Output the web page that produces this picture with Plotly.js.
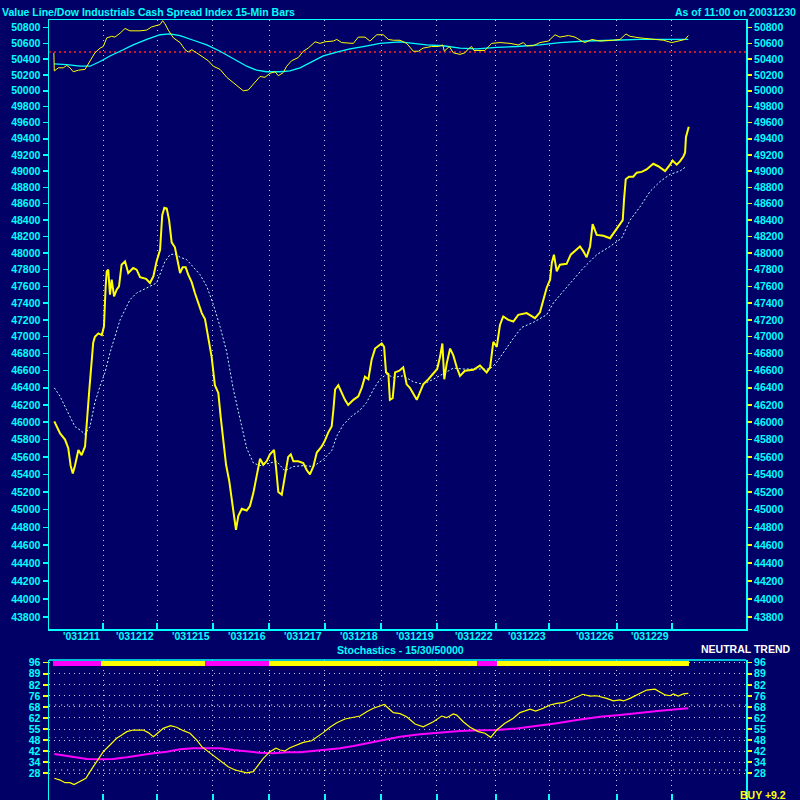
<!DOCTYPE html>
<html><head><meta charset="utf-8">
<script src="https://cdn.plot.ly/plotly-3.0.1.min.js"></script>
<style>html,body{margin:0;padding:0;background:#000066;}#chart{width:800px;height:800px;}</style>
</head><body><div id="chart"></div><script>
// ---------- DATA (x = 15-minute bar number since first bar) ----------
const dayTicks = [23.3, 48.4, 74.4, 100.5, 126.5, 152.6, 178.6, 206.0, 230.7, 262.3, 287.9];
const dayLabels = ["'031211","'031212","'031215","'031216","'031217","'031218","'031219","'031222","'031223","'031226","'031229"];

const priceTicks = [43800,44000,44200,44400,44600,44800,45000,45200,45400,45600,45800,46000,46200,46400,46600,46800,47000,47200,47400,47600,47800,48000,48200,48400,48600,48800,49000,49200,49400,49600,49800,50000,50200,50400,50600,50800];
const priceGridVals = [44000,44200,44400,44600,44800,45000,45200,45400,45600,45800,46000,46200,46400,46600,46800,47000,47200,47400,47600,47800,48000,48200,48400,48600,48800,49000,49200,49400,49600,49800,50000];

// Main price (yellow) and its moving average (dotted)
const priceX = [0.6,3.3,5.6,7.1,8.2,9.2,10.2,11.8,13.3,14.9, 16.9,18.7,19.5,21.1,22.7,23.7,24.5,25.0,25.7,26.5, 27.3,28.4,29.6,30.7,31.9,33.5,35.0,37.3,38.9,40.5, 43.3,45.1,46.7,48.2,49.8,50.8,51.8,52.9,54.0,55.2, 56.7,58.0,59.1,60.3,61.7,62.9,64.5,66.0,67.6,69.2, 70.7,72.2,73.8,75.3,76.9,78.0,79.2,80.5,82.0,83.4, 84.3,85.1,86.2,87.8,90.1,91.6,93.2,94.7,96.3,97.8, 99.4,100.9,102.8,103.7,104.8,106.4,107.9,109.4,110.6,111.8, 114.1,116.4,118.0,119.5,121.1,122.7,125.0,126.5,128.0,129.6, 130.4,131.2,132.7,134.3,135.8,137.3,139.7,142.0,143.6,145.1, 146.7,148.2,149.8,151.3,152.9,154.0,154.9,156.0,156.7,158.0, 159.1,161.1,162.9,164.5,166.0,167.6,169.2,170.7,172.2,174.6, 176.9,178.7,180.0,181.1,182.0,183.1,184.7,186.2,187.8,189.3, 191.6,195.5,198.6,201.7,203.3,204.8,206.4,207.9,209.4,211.8, 214.1,216.4,220.3,222.7,224.2,226.5,228.0,229.6,231.2,232.0, 233.0,234.3,235.8,238.9,240.8,242.8,245.1,246.7,248.2,249.8, 250.6,251.0,252.9,256.0,259.1,261.4,263.7,265.0,265.6,266.4, 267.9,269.9,271.5,273.8,276.1,279.2,281.5,284.7,287.0,288.2, 290.1,291.6,293.2,294.0,294.4,295.7];
const priceY = [46010,45870,45800,45700,45500,45410,45500,45680,45620,45720, 46380,46930,47000,47040,47020,47120,47600,47780,47800,47500, 47680,47480,47560,47600,47860,47900,47760,47820,47800,47710, 47690,47640,47720,47900,48040,48460,48550,48540,48400,48130, 48070,47900,47760,47830,47830,47740,47650,47520,47400,47280, 47210,47000,46760,46430,46340,46060,45790,45510,45320,45040, 44860,44770,44930,45010,44990,45040,45190,45360,45580,45510, 45550,45630,45680,45490,45200,45170,45380,45600,45630,45550, 45550,45530,45450,45400,45490,45650,45720,45790,45880,45950, 46140,46380,46430,46340,46260,46200,46260,46300,46400,46530, 46500,46730,46860,46890,46920,46880,46580,46560,46260,46280, 46580,46600,46640,46440,46400,46330,46260,46350,46440,46500, 46570,46620,46760,46920,46500,46680,46860,46780,46640,46540, 46600,46610,46660,46580,46640,46940,46880,47140,47240,47200, 47180,47260,47280,47240,47220,47290,47420,47580,47680,47880, 47980,47780,47860,47870,47980,48030,48080,48020,47950,48080, 48280,48350,48220,48210,48180,48260,48350,48400,48650,48900, 48930,48930,48980,48990,49020,49090,49060,49000,49080,49130, 49080,49120,49180,49230,49420,49550];

const maX = [0.6,3.3,6.4,8.7,10.2,12.6,14.9,17.2,19.5,21.9, 24.2,26.5,28.8,31.2,33.5,35.8,38.9,42.0,45.1,48.2, 50.6,52.1,54.4,56.7,59.1,62.2,65.3,68.4,71.5,74.6, 77.7,80.8,83.9,87.0,90.1,93.2,96.3,99.4,104.0,107.9, 111.8,116.4,121.1,125.7,129.6,132.0,135.0,138.9,142.8,145.9, 149.0,152.1,155.2,158.3,162.9,167.6,172.2,176.9,181.5,186.2, 190.8,203.3,206.4,210.2,214.1,218.0,223.4,229.6,232.7,237.3, 242.0,246.7,252.9,259.1,264.5,268.4,273.0,277.7,282.3,287.0, 291.6,294.7];
const maY = [46400,46300,46140,46030,45950,45910,45860,45950,46230,46420, 46580,46810,47000,47200,47320,47440,47520,47560,47590,47640, 47800,47900,47980,47990,47950,47920,47830,47740,47600,47380, 47120,46820,46380,46030,45700,45530,45500,45520,45550,45440, 45490,45500,45490,45570,45670,45840,45970,46070,46140,46230, 46380,46500,46560,46520,46540,46470,46440,46500,46560,46630, 46620,46620,46700,46840,46980,47110,47170,47260,47400,47540, 47680,47820,47980,48080,48180,48400,48560,48750,48870,48960, 49000,49060];

// Upper study (yellow) with its average (cyan) and reference level (red)
const topX = [0.4,0.6,2.5,4.8,6.4,7.9,9.4,11.8,14.9,17.2, 19.5,21.9,23.4,25.0,27.3,28.8,31.2,33.5,35.8,40.5, 43.6,45.9,48.2,49.8,51.0,52.1,53.6,56.0,59.1,61.4, 62.9,64.5,66.8,69.9,72.2,74.6,77.7,80.8,83.9,86.2, 88.5,90.8,93.2,96.3,98.6,100.9,103.3,104.8,107.1,108.7, 111.0,114.1,116.4,118.7,121.9,124.2,126.5,130.4,132.0,134.3, 139.7,142.0,145.1,147.4,150.6,153.6,156.0,158.3,161.4,164.5, 167.6,169.9,172.2,176.1,179.2,181.3,182.0,184.3,186.2,189.3, 191.6,193.2,194.7,195.8,200.9,204.0,207.9,212.6,216.4,218.7, 220.3,223.4,226.5,230.4,233.5,235.8,239.7,242.8,245.9,247.4, 250.6,254.4,260.6,263.7,266.5,268.4,273.0,279.2,283.9,287.8, 291.6,294.0,295.5];
const topY = [50480,50250,50290,50290,50320,50290,50240,50260,50270,50380, 50480,50540,50560,50670,50690,50680,50730,50790,50760,50760, 50770,50810,50830,50840,50890,50850,50770,50670,50610,50520, 50490,50520,50480,50420,50380,50310,50270,50170,50100,50050, 50000,50010,50080,50180,50170,50220,50240,50190,50230,50310, 50380,50420,50500,50540,50620,50600,50620,50630,50650,50610, 50600,50680,50680,50630,50710,50710,50650,50640,50640,50600, 50500,50500,50540,50560,50560,50580,50500,50560,50480,50460, 50480,50530,50560,50510,50510,50600,50610,50600,50580,50610, 50570,50570,50610,50630,50710,50680,50700,50680,50630,50610, 50650,50630,50640,50650,50720,50690,50670,50650,50640,50610, 50630,50650,50700];
const topMaX = [0.5,6.4,12.6,17.2,21.9,26.5,31.2,37.3,43.6,49.8, 54.4,59.1,65.3,71.5,77.7,83.9,90.1,94.7,99.4,105.6, 110.2,114.9,119.5,125.7,132.0,138.1,144.3,152.1,161.4,167.6, 173.8,181.5,189.3,197.1,206.4,215.7,226.5,235.8,248.2,260.6, 273.0,295.5];
const topMaY = [50340,50330,50310,50310,50370,50440,50500,50580,50650,50710, 50720,50700,50640,50580,50500,50400,50310,50260,50240,50240, 50250,50290,50350,50440,50490,50530,50560,50600,50620,50600, 50580,50570,50540,50530,50550,50560,50580,50610,50630,50640, 50650,50650];
const topRefLevel = 50490;

// Stochastics
const stochTickVals = [96, 89.2, 82.4, 75.6, 68.8, 62, 55.2, 48.4, 41.6, 34.8, 28];
const stochTickText = ['96','89','82','76','68','62','55','48','42','34','28'];
const stochLevels = [70, 50, 30];
const stochKX = [0.6,3.3,5.6,7.9,9.8,12.6,15.3,17.2,20.3,23.4, 26.5,29.6,32.0,34.3,37.3,42.0,44.3,46.7,48.2,51.3, 54.7,57.5,60.6,63.7,66.8,69.2,72.2,75.3,78.5,81.5, 84.7,87.8,90.1,93.2,95.5,97.8,100.9,103.7,105.6,107.9, 110.2,113.3,116.4,120.3,122.7,125.7,128.8,132.0,135.8,139.7, 142.8,145.9,149.0,152.1,154.0,156.0,158.3,161.4,164.5,168.4, 172.2,176.9,180.8,183.1,186.2,187.8,190.8,194.0,197.8,200.9, 203.6,206.4,210.2,214.1,217.2,221.9,224.5,228.0,231.2,234.3, 237.3,240.5,243.6,246.4,249.8,252.9,257.5,260.6,263.7,265.3, 268.4,272.2,276.1,280.0,282.3,284.7,287.0,288.5,290.8,293.2, 295.5];
const stochKY = [24.9,23.8,22.2,22.2,21,22.8,24.9,29,35.1,41.3, 45.4,49.5,51.5,53.6,54.6,54.6,53,50.5,52.2,55.6, 57.3,56.3,54.2,52.6,48.5,44.4,41.3,38.2,35.1,32, 30,29,28.3,29,33.1,37.2,41.3,43.4,42.3,41.7, 43.7,45.4,47,48,50.1,53,56.3,59.1,61.4,62.2, 63.2,65.9,68,69.4,70.4,68,65.3,64.7,62.8,58.3, 56.6,59.7,63.2,62.2,64.5,63.8,59.7,56.3,53.6,52.6, 50.1,54.6,58.7,61.8,65.3,67.4,66.3,68,70,71, 71.4,73.1,75.1,76.6,75.5,75.7,74.1,72.6,73.1,72.5, 74.1,76.6,79.2,79.7,78.2,76.2,75.7,76.8,75.5,76.8, 77.2];
const stochDX = [0.6,6.4,11.0,15.7,21.9,28.0,34.3,40.5,46.7,52.9, 59.1,65.3,77.7,83.9,90.1,96.3,102.5,108.7,114.9,121.1, 127.3,133.5,139.7,145.9,152.1,161.4,170.7,180.0,189.3,198.6, 206.4,215.7,224.9,234.3,243.6,254.4,263.7,273.0,282.3,295.5];
const stochDY = [39.8,38.6,37.8,36.8,36.6,36.8,37.8,39.2,40.3,41.3, 42.7,43.4,43.4,42.3,41.3,40.6,40.3,40.9,40.9,41.7, 42.3,43.4,44.8,46.4,48,50.5,52,53,54,54.4, 54.6,55.6,57.1,58.7,60.8,62.8,63.8,65.3,66.5,68];
// Signal strip segments (bar ranges) and their state
const bandStart = [0, 22.3, 70.7, 100.5, 197.2, 206.5];
const bandEnd   = [22.3, 70.7, 100.5, 197.2, 206.5, 295.8];
const bandState = ['sell','buy','sell','buy','sell','buy'];

// ---------- STYLE / LAYOUT ----------
const BG = '#000066', CY = '#00ffff', YE = '#ffff00', MA = '#ff00ff', GRID = '#c8c8f0';
const FAM = 'Liberation Sans, Arial, sans-serif';
const tf = {family: FAM, size: 10.5, color: CY, weight: 'bold'};
const xRange = [-1.86, 322.33];
const priceRange = [4.640163, 4.706705];
const stochRange = [11.54, 97.69];
const mainDomain = [0.21923, 1];
const stochDomain = [0, 0.17949];
const bandLevel = 95.5;
const GD = '1px,4px';

function bandTrace(state, color) {
  const xs = [], ys = [];
  for (let i = 0; i < bandStart.length; i++) {
    if (bandState[i] !== state) continue;
    xs.push(bandStart[i], bandEnd[i], null);
    ys.push(bandLevel, bandLevel, null);
  }
  return {x: xs, y: ys, xaxis: 'x2', yaxis: 'y4', mode: 'lines', line: {color: color, width: 5}, hoverinfo: 'skip'};
}

const traces = [
  {x: maX, y: maY, xaxis: 'x', yaxis: 'y', mode: 'lines', line: {color: '#b8ffff', width: 1, dash: '2px,2px'}},
  {x: priceX, y: priceY, xaxis: 'x', yaxis: 'y', mode: 'lines', line: {color: YE, width: 2}},
  {x: xRange, y: [topRefLevel, topRefLevel], xaxis: 'x', yaxis: 'y2', mode: 'lines', line: {color: '#ff2020', width: 1.5, dash: '2px,3px'}},
  {x: topMaX, y: topMaY, xaxis: 'x', yaxis: 'y2', mode: 'lines', line: {color: CY, width: 1.3}},
  {x: topX, y: topY, xaxis: 'x', yaxis: 'y2', mode: 'lines', line: {color: YE, width: 1}},
  bandTrace('sell', MA),
  bandTrace('buy', YE),
  {x: stochDX, y: stochDY, xaxis: 'x2', yaxis: 'y4', mode: 'lines', line: {color: MA, width: 2}},
  {x: stochKX, y: stochKY, xaxis: 'x2', yaxis: 'y5', mode: 'lines', line: {color: YE, width: 1.2}}
];

const priceText = priceTicks.map(String);
const shapes = [
  {type: 'line', xref: 'paper', yref: 'paper', x0: 0, x1: 1, y0: stochDomain[1], y1: stochDomain[1], line: {color: CY, width: 1.5}}
];
const levelColors = [YE, '#33aa33', YE];
stochLevels.forEach((v, i) => shapes.push({type: 'line', xref: 'paper', yref: 'y4', x0: 0, x1: 1, y0: v, y1: v, layer: 'below',
  line: {color: levelColors[i], width: 1.2, dash: '1.2px,4.8px'}}));

const annotations = dayTicks.map((t, i) => ({x: t, xref: 'x', y: 0.21026, yref: 'paper', text: '<b>' + dayLabels[i] + '</b>',
  showarrow: false, xanchor: 'right', yanchor: 'middle', xshift: -1, font: tf}));
annotations.push(
  {x: 1.0746, xref: 'paper', y: 1.01026, yref: 'paper', text: '<b>As of 11:00 on 20031230</b>', showarrow: false, xanchor: 'right', yanchor: 'middle', font: tf},
  {x: 0.5036, xref: 'paper', y: 0.1923, yref: 'paper', text: '<b>Stochastics - 15/30/50000</b>', showarrow: false, xanchor: 'center', yanchor: 'middle', font: tf},
  {x: 1.066, xref: 'paper', y: 0.1936, yref: 'paper', text: '<b>NEUTRAL TREND</b>', showarrow: false, xanchor: 'right', yanchor: 'middle', font: Object.assign({}, tf, {color: '#ffffff'})},
  {x: 1.0603, xref: 'paper', y: 0.0058, yref: 'paper', text: '<b>BUY +9.2</b>', showarrow: false, xanchor: 'right', yanchor: 'middle', font: Object.assign({}, tf, {color: YE})}
);

const layout = {
  width: 800, height: 800,
  margin: {l: 49, r: 54, t: 20, b: 0, pad: 0},
  paper_bgcolor: BG, plot_bgcolor: BG, showlegend: false, hovermode: false,
  font: tf,
  title: {text: '<b>Value Line/Dow Industrials Cash Spread Index 15-Min Bars</b>', x: 0.0025, xanchor: 'left', xref: 'container',
          y: 0.985, yref: 'container', yanchor: 'middle', font: tf, pad: {t: 0, b: 0, l: 0, r: 0}},
  xaxis: {domain: [0, 1], anchor: 'y', range: xRange, tickmode: 'array', tickvals: dayTicks, showticklabels: false,
          ticks: 'inside', ticklen: 6, tickcolor: CY, tickwidth: 1.5, showgrid: true, gridcolor: GRID, griddash: GD, gridwidth: 1,
          showline: true, linecolor: CY, linewidth: 1.5, mirror: true, zeroline: false, fixedrange: true},
  yaxis: {domain: mainDomain, anchor: 'x', type: 'log', range: priceRange, tickmode: 'array', tickvals: priceTicks, ticktext: priceText,
          ticks: 'outside', ticklen: 5, tickcolor: CY, tickwidth: 1.5, showgrid: false, showline: true, linecolor: CY, linewidth: 1.5,
          mirror: true, zeroline: false, tickfont: tf, fixedrange: true},
  yaxis2: {overlaying: 'y', anchor: 'x', side: 'right', type: 'log', range: priceRange, tickmode: 'array', tickvals: priceTicks, ticktext: priceText,
          ticks: 'outside', ticklen: 5, tickcolor: YE, tickwidth: 1.5, showgrid: false, showline: false, zeroline: false, tickfont: tf, fixedrange: true},
  yaxis3: {overlaying: 'y', anchor: 'x', type: 'log', range: priceRange, tickmode: 'array', tickvals: priceGridVals, showticklabels: false,
          ticks: '', showgrid: true, gridcolor: GRID, griddash: GD, gridwidth: 1, showline: false, zeroline: false, fixedrange: true},
  xaxis2: {domain: [0, 1], anchor: 'y4', range: xRange, tickmode: 'array', tickvals: dayTicks, showticklabels: false,
          ticks: 'inside', ticklen: 6, tickcolor: CY, tickwidth: 1.5, showgrid: true, gridcolor: GRID, griddash: GD, gridwidth: 1,
          showline: false, zeroline: false, fixedrange: true},
  yaxis4: {domain: stochDomain, anchor: 'x2', range: stochRange, tickmode: 'array', tickvals: stochTickVals, ticktext: stochTickText,
          ticks: 'outside', ticklen: 5, tickcolor: YE, tickwidth: 1.5, showgrid: true, gridcolor: GRID, griddash: GD, gridwidth: 1,
          showline: true, linecolor: CY, linewidth: 1.5, mirror: true, zeroline: false, tickfont: tf, fixedrange: true},
  yaxis5: {overlaying: 'y4', anchor: 'x2', side: 'right', range: stochRange, tickmode: 'array', tickvals: stochTickVals, ticktext: stochTickText,
          ticks: 'outside', ticklen: 5, tickcolor: YE, tickwidth: 1.5, showgrid: false, showline: false, zeroline: false, tickfont: tf, fixedrange: true},
  shapes: shapes,
  annotations: annotations
};

Plotly.newPlot('chart', traces, layout, {staticPlot: true, displayModeBar: false});
</script></body></html>
